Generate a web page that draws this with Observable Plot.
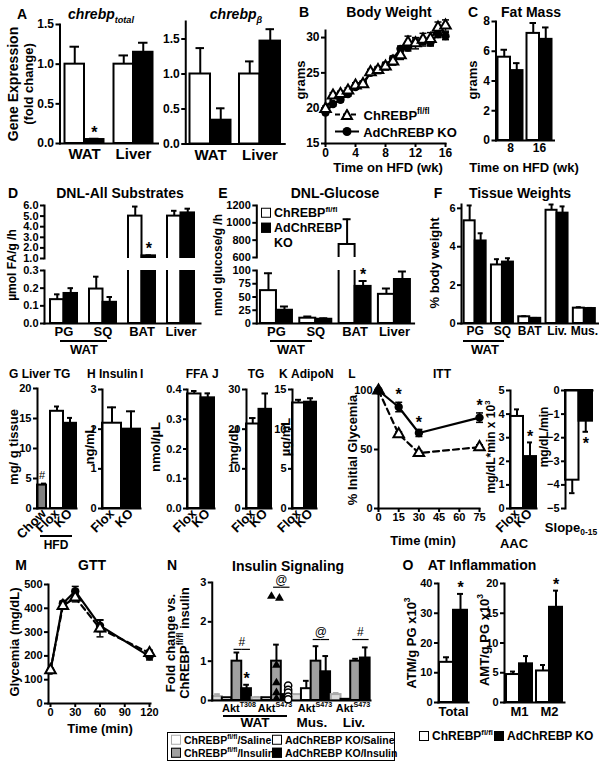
<!DOCTYPE html>
<html><head><meta charset="utf-8">
<script src="https://cdn.jsdelivr.net/npm/d3@7"></script>
<script src="https://cdn.jsdelivr.net/npm/@observablehq/plot@0.6"></script>
<style>
html,body{margin:0;padding:0;background:#fff}
#root{position:relative;width:604px;height:768px;overflow:hidden;background:#fff;font-family:"Liberation Sans",Arial,Helvetica,sans-serif;font-weight:bold;color:#000}
.t{position:absolute;white-space:nowrap;line-height:1;font-weight:bold}
.t sup,.t sub{font-size:65%;line-height:0}
svg.plt{position:absolute;overflow:visible}
svg.plt g[aria-label$="-axis tick"], svg.plt g[aria-label$="-axis tick"] path{stroke-width:2px}
.hl{position:absolute;background:#000;height:1.5px}
.sq{display:inline-block;width:10px;height:10px;border:1.5px solid #000;vertical-align:-1px;margin-right:3px;box-sizing:border-box;background:#fff}
.box{position:absolute;border:1px solid #000;box-sizing:border-box}
</style></head>
<body><div id="root"></div>
<script>
// ---------------- DATA ----------------
// A
const geneGroups = ["WAT", "Liver"];
const totalFlox = [1.0, 1.0], totalFloxErr = [0.22, 0.11];
const totalKO = [0.05, 1.15], totalKOErr = [0.01, 0.12], totalStars = ["*", ""];
const betaFlox = [1.0, 1.0], betaFloxErr = [0.37, 0.18];
const betaKO = [0.34, 1.47], betaKOErr = [0.17, 0.17];
const geneTicks = [0, 0.5, 1.0, 1.5];
// B
const weeks = [0, 1, 2, 3, 4, 5, 6, 7, 8, 9, 10, 11, 12, 13, 14, 15, 16];
const bwFlox = [19.9, 21.8, 22.0, 22.5, 23.2, 23.4, 25.1, 25.4, 25.9, 26.6, 27.5, 29.3, 29.2, 29.7, 29.8, 31.4, 31.7];
const bwFloxErr = [0.4, 0.4, 0.4, 0.4, 0.4, 0.4, 0.4, 0.5, 0.5, 0.5, 0.6, 0.9, 0.8, 0.9, 0.9, 0.8, 0.8];
const bwKO = [19.4, 20.6, 21.2, 22.0, 23.0, 23.5, 25.0, 25.5, 26.1, 27.0, 28.4, 28.6, 29.3, 29.5, 29.3, 30.5, 30.2];
const bwKOErr = [0.3, 0.3, 0.3, 0.3, 0.3, 0.3, 0.3, 0.3, 0.4, 0.4, 0.4, 0.5, 0.5, 0.5, 0.5, 0.5, 0.5];
const bwXTicks = [0, 4, 8, 12, 16], bwYTicks = [15, 20, 25, 30];
// C
const fatWeeks = ["8", "16"];
const fatFlox = [5.6, 7.2], fatFloxErr = [0.5, 0.7];
const fatKO = [4.7, 6.8], fatKOErr = [0.5, 0.8];
const fatTicks = [0, 2, 4, 6, 8];
// D
const dnlGroups = ["PG", "SQ", "BAT", "Liver"];
const dnlAllFlox = [0.135, 0.195, 5.0, 5.0], dnlAllFloxErr = [0.03, 0.07, 0.9, 0.5];
const dnlAllKO = [0.17, 0.12, 1.25, 5.3], dnlAllKOErr = [0.03, 0.03, 0.05, 0.4];
const dnlAllStars = ["", "", "*", ""];
const dnlAllHiTicks = [1, 2, 3, 4, 5, 6], dnlAllLoTicks = [0, 0.1, 0.2, 0.3];
// E
const dnlGluFlox = [62, 10, 750, 55], dnlGluFloxErr = [33, 3, 290, 11];
const dnlGluKO = [25, 8, 70, 83], dnlGluKOErr = [7, 2, 10, 15];
const dnlGluStars = ["", "", "*", ""];
const dnlGluHiTicks = [600, 800, 1000, 1200], dnlGluLoTicks = [0, 25, 50, 75, 100];
// F
const tissueGroups = ["PG", "SQ", "BAT", "Liv.", "Mus."];
const tissueFlox = [5.35, 3.05, 0.35, 5.9, 0.8], tissueFloxErr = [0.8, 0.3, 0.03, 0.3, 0.05];
const tissueKO = [4.3, 3.2, 0.27, 5.75, 0.78], tissueKOErr = [0.4, 0.2, 0.02, 0.35, 0.03];
const tissueTicks = [0, 2, 4, 6];
// G-K
const tgGroups = ["Chow", "Flox", "KO"], tgKeys = ["chow", "flox", "ko"];
const liverTG = [3.9, 16.2, 14.2], liverTGErr = [0.25, 0.8, 0.9], liverTGMarks = ["#", "", ""];
const serumGroups = ["Flox", "KO"], serumKeys = ["flox", "ko"];
const insulin = [2.15, 2.0], insulinErr = [0.4, 0.45];
const ffa = [0.385, 0.372], ffaErr = [0.01, 0.015];
const tg = [21.3, 25.0], tgErr = [1.5, 4.0];
const adipoN = [13.3, 13.4], adipoNErr = [0.4, 0.5];
// L
const ittTimes = [0, 15, 30, 75];
const ittFlox = [100, 63, 47, 52], ittFloxErr = [0, 2, 2, 2];
const ittKO = [100, 86, 64, 77], ittKOErr = [0, 4, 3, 4], ittStars = ["", "*", "*", "*"];
const aac = [3.9, 2.2], aacErr = [0.3, 0.6], aacStars = ["", "*"];
const slope = [-3.8, -1.3], slopeErr = [0.55, 0.45], slopeStars = ["", "*"];
// M
const gttTimes = [0, 15, 30, 60, 120];
const gttFlox = [140, 410, 445, 315, 212], gttFloxErr = [8, 12, 18, 35, 12];
const gttKO = [138, 420, 472, 327, 198], gttKOErr = [8, 10, 20, 25, 15];
// N
const nGroups = ["T308 WAT", "S473 WAT", "S473 Mus", "S473 Liv"];
const nKeys = ["fs", "ks", "fi", "ki"];
const nFloxSal = [0.1, 0.07, 0.15, 0.15], nFloxSalErr = [0.06, 0.02, 0.0, 0.04];
const nKOSal = [0.07, 0.07, 0.3, 0.03], nKOSalErr = [0.0, 0.0, 0.2, 0.0];
const nFloxIns = [1.0, 1.0, 1.0, 1.0], nFloxInsErr = [0.22, 0.42, 0.38, 0.06];
const nKOIns = [0.3, 0.15, 0.73, 1.08], nKOInsErr = [0.1, 0.0, 0.4, 0.27], nKOInsStars = ["*", "", "", ""];
const nTriangles = [2.65, 2.6, 0.9, 0.45, 0.2, 0.05];
const nCircles = [0.38, 0.27, 0.2, 0.1, 0.03];
const nSigY = [1.3, 2.88, 1.55, 1.55], nSigSym = ["#", "@", "@", "#"];
const nTicks = [0, 1, 2, 3];
// O
const atmFlox = [13.5], atmFloxErr = [1.7], atmKO = [31], atmKOErr = [5.5], atmStars = ["*"];
const amtGroups = ["M1", "M2"];
const amtFlox = [4.7, 5.3], amtFloxErr = [0.5, 1.0], amtKO = [6.5, 16], amtKOErr = [1.3, 2.8], amtStars = ["", "*"];

// ---------------- HELPERS ----------------
const FONT = '"Liberation Sans", Arial, Helvetica, sans-serif';
const root = document.getElementById("root");
const COLORS = {flox: "#fff", ko: "#000", chow: "#808080", fs: "#dcdcdc", ks: "#fff", fi: "#a0a0a0", ki: "#000"};
const STROKES = {fs: "#aaaaaa"};
const CAP = {draw(ctx, size) { const r = Math.sqrt(size / Math.PI); ctx.moveTo(-r, 0); ctx.lineTo(r, 0); }};

function place(svg, left, top) { svg.style.position = "absolute"; svg.style.left = left + "px"; svg.style.top = top + "px"; root.appendChild(svg); }
function T(x, y, html, size = 12, o = {}) {
  const d = document.createElement("div");
  d.className = "t"; d.innerHTML = html;
  d.style.left = x + "px"; d.style.top = y + "px"; d.style.fontSize = size + "px";
  const tx = o.a === "s" ? "0" : o.a === "e" ? "-100%" : "-50%";
  d.style.transform = `translate(${tx},-50%)` + (o.r ? ` rotate(${o.r}deg)` : "");
  if (o.i) d.style.fontStyle = "italic";
  if (o.ls) d.style.letterSpacing = o.ls + "px";
  root.appendChild(d); return d;
}
function HL(x1, x2, y, color) {
  const d = document.createElement("div"); d.className = "hl";
  d.style.left = x1 + "px"; d.style.top = y + "px"; d.style.width = (x2 - x1) + "px";
  if (color) d.style.background = color;
  root.appendChild(d);
}
function pairs(groups, fv, fe, kv, ke, ks) {
  return groups.flatMap((g, i) => [{g, k: "flox", v: fv[i], e: fe[i]}, {g, k: "ko", v: kv[i], e: ke[i], star: ks ? ks[i] : ""}]);
}
function singles(groups, keys, vals, errs, stars) {
  return groups.map((g, i) => ({g, k: keys[i], v: vals[i], e: errs[i], star: stars ? stars[i] : ""}));
}
const baseStyle = (fs) => ({fontFamily: FONT, fontSize: fs + "px", fontWeight: "bold", background: "none", overflow: "visible", color: "#000"});
function safe(f) { try { f(); } catch (e) { console.error(e && e.message ? e.message : e); } }

function barPanel(o) {
  const ML = 40, MR = 4, MT = 10, MB = o.MB ?? 40;
  const W = o.x1 - o.x0, H = o.yB - o.yT;
  const n = o.groups.length;
  const keys = o.keys || ["a"];
  const xk = o.keys ? "k" : () => "a";
  const L0 = o.L0 || 0;
  const fw = (W - L0) / n;
  const po = Math.max(0, (fw / o.bw - keys.length) / 2);
  const P = L0 / (2 * fw);
  const sg = d => (d.v < 0 ? -1 : 1);
  const top = d => d.v + sg(d) * (d.e || 0);
  const clip = !!o.clip;
  const fill = d => COLORS[d.k], stroke = d => STROKES[d.k] || "black";
  const withE = o.data.filter(d => d.e);
  const cap = o.cap ?? Math.round(o.bw * 0.27);
  const ins = o.insetRight || {};
  const marks = [
    Plot.barY(o.data.filter(d => !(d.g in ins)), {fx: "g", x: xk, y: "v", fill, stroke, strokeWidth: 2, clip}),
    ...Object.entries(ins).map(([g, r]) => Plot.barY(o.data.filter(d => d.g === g), {fx: "g", x: xk, y: "v", fill, stroke, strokeWidth: 2, clip, insetRight: r})),
    Plot.ruleX(withE, {fx: "g", x: xk, y1: "v", y2: top, stroke, strokeWidth: 2, clip}),
    Plot.tickY(withE, {fx: "g", x: xk, y: top, stroke, strokeWidth: 2, insetLeft: cap, insetRight: cap, clip})
  ];
  if (o.stars) marks.push(Plot.text(o.data.filter(d => d.star), {fx: "g", x: xk, y: top, text: "star", dy: o.starDy ?? -6, dx: o.starDx ?? 0, fontSize: o.starSize ?? 16, fontWeight: o.starWeight ?? "bold", fill: "black"}));
  if (o.base !== false) marks.push(Plot.frame({anchor: o.baseTop ? "top" : "bottom", facet: "super", strokeWidth: 2}));
  marks.push(Plot.frame({anchor: "left", facet: "super", strokeWidth: 2}));
  marks.push(Plot.axisY({ticks: o.ticks, tickFormat: o.fmt, tickSize: 4, tickPadding: 2, label: null, fontSize: o.tf || 11}));
  if (o.extra) marks.push(...o.extra);
  const svg = Plot.plot({
    width: W + ML + MR, height: H + MT + MB,
    marginLeft: ML, marginRight: MR, marginTop: MT, marginBottom: MB,
    className: "plt", style: baseStyle(o.tf || 11),
    fx: {domain: o.groups, paddingInner: 0, paddingOuter: P, align: 1, round: false, axis: o.fxAxis === null ? null : "bottom", label: null, tickSize: 0, tickPadding: o.fxPad ?? 4, tickRotate: o.rot || 0},
    x: {domain: keys, paddingInner: 0, paddingOuter: po, round: false, axis: null},
    y: {domain: o.domain, round: false},
    marks
  });
  svg.querySelectorAll('g[aria-label="fx-axis tick label"]').forEach(g => g.style.fontSize = (o.fxSize || 13) + "px");
  place(svg, o.x0 - ML, o.yT - MT);
  return svg;
}

function series(times, vals, errs, dashed, sym, stars) {
  const rows = times.map((t, i) => ({t, v: vals[i], e: errs[i], star: stars ? stars[i] : ""}));
  const we = rows.filter(d => d.e);
  const m = [
    Plot.ruleX(we, {x: "t", y1: d => d.v - d.e, y2: d => d.v + d.e, strokeWidth: 1.5}),
    Plot.dot(we, {x: "t", y: d => d.v + d.e, symbol: CAP, r: 3.5, stroke: "black", strokeWidth: 1.5}),
    Plot.dot(we, {x: "t", y: d => d.v - d.e, symbol: CAP, r: 3.5, stroke: "black", strokeWidth: 1.5}),
    Plot.line(rows, dashed ? {x: "t", y: "v", strokeWidth: 2.2, strokeDasharray: "6,4"} : {x: "t", y: "v", strokeWidth: 2.2}),
    sym === "tri"
      ? Plot.dot(rows, {x: "t", y: "v", symbol: "triangle", r: 3.9, fill: "white", stroke: "black", strokeWidth: 2})
      : Plot.dot(rows, {x: "t", y: "v", r: 4.2, fill: "black"})
  ];
  if (stars) m.push(Plot.text(rows.filter(d => d.star), {x: "t", y: d => d.v + d.e, text: "star", dy: -7, fontSize: 16, fontWeight: "bold"}));
  return m;
}

function linePlot(o) {
  const ML = 36, MR = 6, MT = 10, MB = 30;
  const W = o.x1 - o.x0, H = o.yB - o.yT;
  const svg = Plot.plot({
    width: W + ML + MR, height: H + MT + MB,
    marginLeft: ML, marginRight: MR, marginTop: MT, marginBottom: MB,
    className: "plt", style: baseStyle(o.tf || 11),
    x: {domain: o.xd, insetLeft: o.insetL || 0, insetRight: o.insetR || 0, round: false},
    y: {domain: o.yd, round: false},
    marks: [
      Plot.frame({anchor: "left", strokeWidth: 2}),
      Plot.frame({anchor: "bottom", strokeWidth: 2}),
      Plot.axisX({ticks: o.xt, tickSize: 4, tickPadding: 1, label: null, fontSize: o.tf || 11}),
      Plot.axisY({ticks: o.yt, tickSize: 4, tickPadding: 2, label: null, fontSize: o.tf || 11}),
      ...o.marks
    ]
  });
  place(svg, o.x0 - ML, o.yT - MT);
  return svg;
}

// ---------------- PANEL A ----------------
safe(() => barPanel({x0: 59, x1: 157.5, L0: 0.5, yT: 24, yB: 143, domain: [0, 1.5], ticks: geneTicks, fmt: ".1f",
  groups: geneGroups, keys: ["flox", "ko"], bw: 19.5, tf: 12, fxSize: 15, fxPad: 5, stars: true,
  data: pairs(geneGroups, totalFlox, totalFloxErr, totalKO, totalKOErr, totalStars)}));
safe(() => barPanel({x0: 167, x1: 284.25, L0: 18.25, yT: 20.5, yB: 143, domain: [0, 1.75], ticks: geneTicks, fmt: ".1f",
  groups: geneGroups, keys: ["flox", "ko"], bw: 20.5, tf: 12, fxSize: 15, fxPad: 5,
  data: pairs(geneGroups, betaFlox, betaFloxErr, betaKO, betaKOErr)}));
T(22, 14, "A", 14);
T(101, 14, "chrebp<sub>total</sub>", 14, {i: 1});
T(236, 14, "chrebp<sub>β</sub>", 14, {i: 1});
T(13, 84, "Gene Expression", 14, {r: -90});
T(28, 84, "(fold change)", 13, {r: -90});

// ---------------- PANEL B ----------------
safe(() => linePlot({x0: 325, x1: 445, yT: 30, yB: 143, xd: [0, 16], yd: [15, 31], xt: bwXTicks, yt: bwYTicks, tf: 12,
  marks: [...series(weeks, bwKO, bwKOErr, false, "dot"), ...series(weeks, bwFlox, bwFloxErr, true, "tri")]}));
T(304, 12, "B", 14); T(389, 12, "Body Weight", 14);
T(300, 80, "grams", 13, {r: -90});
T(388, 167, "Time on HFD (wk)", 13);
T(334, 115, `<svg width="26" height="12" style="vertical-align:-1px"><line x1="1" y1="6" x2="25" y2="6" stroke="#000" stroke-width="2" stroke-dasharray="5,3"/><path d="M13,1.5 L18,10.5 L8,10.5 Z" fill="#fff" stroke="#000" stroke-width="2"/></svg> ChREBP<sup>fl/fl</sup>`, 13, {a: "s"});
T(334, 132, `<svg width="26" height="12" style="vertical-align:-1px"><line x1="1" y1="6" x2="25" y2="6" stroke="#000" stroke-width="2"/><circle cx="13" cy="6" r="4.5" fill="#000"/></svg> AdChREBP KO`, 13, {a: "s"});

// ---------------- PANEL C ----------------
safe(() => barPanel({x0: 495, x1: 553.5, L0: 0.5, yT: 21, yB: 140, domain: [0, 8], ticks: fatTicks, fmt: "d",
  groups: fatWeeks, keys: ["flox", "ko"], bw: 12.5, tf: 12, fxSize: 12, fxPad: 3,
  data: pairs(fatWeeks, fatFlox, fatFloxErr, fatKO, fatKOErr)}));
T(473, 12, "C", 14); T(531, 12, "Fat Mass", 14);
T(472, 80, "grams", 13, {r: -90});
T(524, 167, "Time on HFD (wk)", 13);

// ---------------- PANEL D ----------------
const dAll = pairs(dnlGroups, dnlAllFlox, dnlAllFloxErr, dnlAllKO, dnlAllKOErr, dnlAllStars);
safe(() => barPanel({x0: 40, x1: 200, L0: 4, yT: 205, yB: 258, domain: [1, 6], ticks: dnlAllHiTicks, fmt: ".1f",
  groups: dnlGroups, keys: ["flox", "ko"], bw: 13.5, clip: true, base: false, fxAxis: null, stars: true, MB: 4, data: dAll}));
safe(() => barPanel({x0: 40, x1: 200, L0: 4, yT: 270, yB: 323, domain: [0, 0.3], ticks: dnlAllLoTicks, fmt: ".1f",
  groups: dnlGroups, keys: ["flox", "ko"], bw: 13.5, clip: true, fxSize: 13, fxPad: 3, data: dAll}));
T(13, 193, "D", 14); T(120, 193, "DNL-All Substrates", 14);
T(12, 265, "µmol FA/g /h", 12, {r: -90});
HL(60, 107, 340); T(84, 349, "WAT", 13);

// ---------------- PANEL E ----------------
const dGlu = pairs(dnlGroups, dnlGluFlox, dnlGluFloxErr, dnlGluKO, dnlGluKOErr, dnlGluStars);
safe(() => barPanel({x0: 252, x1: 413.6, L0: 4.3, yT: 205, yB: 257, domain: [600, 1200], ticks: dnlGluHiTicks, fmt: "d",
  groups: dnlGroups, keys: ["flox", "ko"], bw: 16, clip: true, base: false, fxAxis: null, MB: 4, data: dGlu}));
safe(() => barPanel({x0: 252, x1: 413.6, L0: 4.3, yT: 270, yB: 323, domain: [0, 100], ticks: dnlGluLoTicks, fmt: "d",
  groups: dnlGroups, keys: ["flox", "ko"], bw: 16, clip: true, stars: true, fxSize: 13, fxPad: 3, data: dGlu}));
T(223, 193, "E", 14); T(335, 193, "DNL-Glucose", 14);
T(218, 265, "nmol glucose/g /h", 12, {r: -90});
HL(270, 312, 340); T(291, 349, "WAT", 13);
T(261, 213, `<span class="sq"></span>ChREBP<sup>fl/fl</sup>`, 12.5, {a: "s"});
T(261, 228, `<span class="sq" style="background:#000"></span>AdChREBP`, 12.5, {a: "s"});
T(274, 243, "KO", 12.5, {a: "s"});

// ---------------- PANEL F ----------------
safe(() => barPanel({x0: 461, x1: 597.5, L0: 0, yT: 204, yB: 323, domain: [0, 6.2], ticks: tissueTicks, fmt: "d",
  groups: tissueGroups, keys: ["flox", "ko"], bw: 11, fxSize: 12, fxPad: 3,
  data: pairs(tissueGroups, tissueFlox, tissueFloxErr, tissueKO, tissueKOErr)}));
T(438, 193, "F", 14); T(520, 193, "Tissue Weights", 14);
T(434, 263, "% body weight", 13, {r: -90});
HL(463, 504, 340); T(485, 349, "WAT", 13);

// ---------------- PANELS G-K ----------------
safe(() => barPanel({x0: 35, x1: 76, L0: 2, yT: 388, yB: 508, domain: [0, 20], ticks: [0, 5, 10, 15, 20], fmt: "d",
  groups: tgGroups, bw: 13, rot: -45, fxSize: 13, fxPad: 3, stars: true, starSize: 11, starWeight: "normal", starDy: -8, starDx: -2,
  insetRight: {Chow: 4}, data: singles(tgGroups, tgKeys, liverTG, liverTGErr, liverTGMarks)}));
safe(() => barPanel({x0: 100, x1: 140, L0: 2, yT: 389, yB: 508, domain: [0, 3], ticks: [0, 1, 2, 3], fmt: "d",
  groups: serumGroups, bw: 19, rot: -45, fxSize: 13, fxPad: 3, data: singles(serumGroups, serumKeys, insulin, insulinErr)}));
safe(() => barPanel({x0: 185, x1: 214, L0: 2, yT: 389, yB: 508, domain: [0, 0.4], ticks: [0, 0.1, 0.2, 0.3, 0.4], fmt: ".1f",
  groups: serumGroups, bw: 13.5, rot: -45, fxSize: 13, fxPad: 3, data: singles(serumGroups, serumKeys, ffa, ffaErr)}));
safe(() => barPanel({x0: 245, x1: 271, L0: 1, yT: 389, yB: 508, domain: [0, 30], ticks: [0, 10, 20, 30], fmt: "d",
  groups: serumGroups, bw: 12.5, rot: -45, fxSize: 13, fxPad: 3, data: singles(serumGroups, serumKeys, tg, tgErr)}));
safe(() => barPanel({x0: 291, x1: 316, L0: 1, yT: 389, yB: 508, domain: [0, 15], ticks: [0, 5, 10, 15], fmt: "d",
  groups: serumGroups, bw: 12, rot: -45, fxSize: 13, fxPad: 3, data: singles(serumGroups, serumKeys, adipoN, adipoNErr)}));
T(9, 374, "G&nbsp;Liver TG", 12, {a: "s"});
T(87, 374, "H&nbsp;Insulin", 12, {a: "s"});
T(140, 374, "I", 12, {a: "s"});
T(197, 374, "FFA", 12);
T(212, 374, "J", 12, {a: "s"});
T(256, 374, "TG", 12);
T(279, 374, "K&nbsp;AdipoN", 12, {a: "s"});
T(13, 447, "mg/ g tissue", 13, {r: -90});
T(89, 445, "ng/mL", 13, {r: -90});
T(155, 447, "nmol/µL", 13, {r: -90});
T(233, 445, "mg/dL", 13, {r: -90});
T(285, 437, "µg/mL", 13, {r: -90});
HL(40, 72, 535); T(56, 545, "HFD", 12);

// ---------------- PANEL L ----------------
safe(() => linePlot({x0: 378, x1: 479, yT: 390, yB: 508, xd: [0, 75], yd: [0, 100], xt: [0, 15, 30, 45, 60, 75], yt: [0, 50, 100], tf: 11,
  marks: [...series(ittTimes, ittFlox, ittFloxErr, true, "tri"), ...series(ittTimes, ittKO, ittKOErr, false, "dot", ittStars)]}));
safe(() => barPanel({x0: 508, x1: 536, L0: 2, yT: 390, yB: 508, domain: [0, 5], ticks: [0, 1, 2, 3, 4, 5], fmt: "d",
  groups: serumGroups, bw: 13, rot: -45, fxSize: 13, fxPad: 3, stars: true, data: singles(serumGroups, serumKeys, aac, aacErr, aacStars)}));
safe(() => barPanel({x0: 563, x1: 592, L0: 2, yT: 390, yB: 508, domain: [-5, 0], ticks: [-5, -4, -3, -2, -1, 0], fmt: "d",
  groups: serumGroups, bw: 13.5, fxAxis: null, stars: true, starDy: 12, baseTop: true, data: singles(serumGroups, serumKeys, slope, slopeErr, slopeStars)}));
T(352, 374, "L", 12);
T(442, 374, "ITT", 12);
T(352, 450, "% Initial Glycemia", 13, {r: -90});
T(423, 540, "Time (min)", 13);
T(491, 447, "mg/dL*min x 10<sup>3</sup>", 12, {r: -90});
T(514, 543, "AAC", 13);
T(544, 437, "mg/dL/min", 12, {r: -90});
T(571, 527, "Slope<sub>0-15</sub>", 13);

// ---------------- PANEL M ----------------
safe(() => linePlot({x0: 48, x1: 150, yT: 584, yB: 703, xd: [0, 120], yd: [0, 500], insetL: 2, insetR: 1,
  xt: [0, 30, 60, 90, 120], yt: [0, 100, 200, 300, 400, 500], tf: 11,
  marks: [...series(gttTimes, gttKO, gttKOErr, false, "dot"), ...series(gttTimes, gttFlox, gttFloxErr, true, "tri")]}));
T(21, 565, "M", 14); T(92, 565, "GTT", 14);
T(14, 642, "Glycemia (mg/dL)", 13, {r: -90});
T(100, 728, "Time (min)", 13);

// ---------------- PANEL N ----------------
const nData = nGroups.flatMap((g, i) => [
  {g, k: "fs", v: nFloxSal[i], e: nFloxSalErr[i]},
  {g, k: "ks", v: nKOSal[i], e: nKOSalErr[i]},
  {g, k: "fi", v: nFloxIns[i], e: nFloxInsErr[i]},
  {g, k: "ki", v: nKOIns[i], e: nKOInsErr[i], star: nKOInsStars[i]}
]);
const nSig = nGroups.map((g, i) => ({g, y: nSigY[i], s: nSigSym[i]}));
const nTri = nTriangles.map(v => ({g: "S473 WAT", v}));
const nCirc = nCircles.map(v => ({g: "S473 WAT", v}));
const nBW = 9.7;
safe(() => barPanel({x0: 210, x1: 370, L0: 1.75, yT: 582, yB: 700, domain: [0, 3], ticks: nTicks, fmt: "d",
  groups: nGroups, keys: nKeys, bw: nBW, fxAxis: null, stars: true, starDy: -6, data: nData, cap: 2,
  extra: [
    Plot.tickY(nSig, {fx: "g", x: () => "fi", y: "y", strokeWidth: 1.2, insetLeft: 2}),
    Plot.tickY(nSig, {fx: "g", x: () => "ki", y: "y", strokeWidth: 1.2, insetRight: 1}),
    Plot.text(nSig, {fx: "g", x: () => "fi", y: "y", text: "s", dx: nBW / 2, dy: -7, fontSize: 12, fontWeight: "normal"}),
    Plot.dot(nTri.slice(0, 1), {fx: "g", x: () => "fi", y: "v", symbol: "triangle", fill: "black", r: 3.3, dx: -5}),
    Plot.dot(nTri.slice(1, 2), {fx: "g", x: () => "fi", y: "v", symbol: "triangle", fill: "black", r: 3.3, dx: 3}),
    Plot.dot(nTri.slice(2), {fx: "g", x: () => "fi", y: "v", symbol: "triangle", fill: "black", r: 3.3}),
    Plot.dot(nCirc, {fx: "g", x: () => "ki", y: "v", r: 3.6, fill: "white", stroke: "black", strokeWidth: 1.5, dx: 2})
  ]}));
T(172, 565, "N", 14); T(288, 566, "Insulin Signaling", 14);
T(170, 643, "Fold change vs.", 13, {r: -90});
T(184, 643, "ChREBP<sup>fl/fl</sup> insulin", 13, {r: -90});
T(239, 708, "Akt<sup>T308</sup>", 11); T(275, 708, "Akt<sup>S473</sup>", 11);
T(315, 708, "Akt<sup>S473</sup>", 11); T(353, 708, "Akt<sup>S473</sup>", 11);
HL(223, 287, 715); T(255, 723, "WAT", 13.5); T(312, 723, "Mus.", 13.5); T(354, 723, "Liv.", 13.5);
{
  const b = document.createElement("div"); b.className = "box";
  b.style.left = "167px"; b.style.top = "732px"; b.style.width = "228px"; b.style.height = "29px";
  root.appendChild(b);
}
T(171, 740, `<span class="sq" style="border-color:#aaa"></span>ChREBP<sup>fl/fl</sup>/Saline`, 10.5, {a: "s"});
T(272, 740, `<span class="sq"></span>AdChREBP KO/Saline`, 10.5, {a: "s"});
T(171, 753, `<span class="sq" style="background:#a0a0a0"></span>ChREBP<sup>fl/fl</sup>/Insulin`, 10.5, {a: "s"});
T(272, 753, `<span class="sq" style="background:#000"></span>AdChREBP KO/Insulin`, 10.5, {a: "s"});

// ---------------- PANEL O ----------------
safe(() => barPanel({x0: 427, x1: 468, L0: 11, yT: 583, yB: 702, domain: [0, 40], ticks: [0, 10, 20, 30, 40], fmt: "d",
  groups: ["Total"], keys: ["flox", "ko"], bw: 14, stars: true, fxSize: 13, fxPad: 4,
  data: pairs(["Total"], atmFlox, atmFloxErr, atmKO, atmKOErr, atmStars)}));
safe(() => barPanel({x0: 502, x1: 564, L0: 2, yT: 583, yB: 702, domain: [0, 20], ticks: [0, 5, 10, 15, 20], fmt: "d",
  groups: amtGroups, keys: ["flox", "ko"], bw: 13, stars: true, fxSize: 13, fxPad: 4,
  data: pairs(amtGroups, amtFlox, amtFloxErr, amtKO, amtKOErr, amtStars)}));
T(408, 565, "O", 14); T(482, 565, "AT Inflammation", 14);
T(411, 643, "ATM/g PG x10<sup>3</sup>", 13, {r: -90});
T(484, 640, "AMT/g PG x10<sup>3</sup>", 13, {r: -90});
T(419, 736, `<span class="sq"></span>ChREBP<sup>fl/fl</sup>`, 12, {a: "s"});
T(494, 736, `<span class="sq" style="background:#000"></span>AdChREBP KO`, 12, {a: "s"});
</script></body></html>
